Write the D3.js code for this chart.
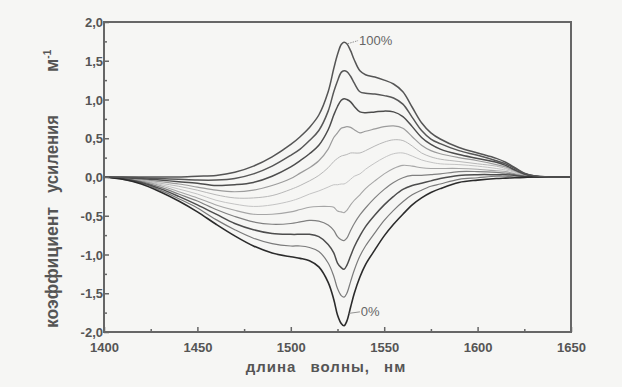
<!DOCTYPE html>
<html>
<head>
<meta charset="utf-8">
<script src="https://cdn.jsdelivr.net/npm/d3@7"></script>
<style>
  html, body { margin: 0; padding: 0; background: #f6f6f4; }
  svg { display: block; }
  .tick-label { font-family: "Liberation Sans", Arial, sans-serif; font-weight: bold; font-size: 13px; fill: #555; }
  .axis-title { font-family: "Liberation Sans", Arial, sans-serif; font-weight: bold; fill: #555; }
  .curve-label { font-family: "Liberation Sans", Arial, sans-serif; font-size: 13px; fill: #666; }
</style>
</head>
<body>
<svg id="chart" width="622" height="387"></svg>
<script>
// Wavelength grid, nm
const wavelength = [1400,1410,1420,1430,1440,1450,1460,1470,1480,1490,1500,1505,1510,1515,1520,1523,1525,1527,1528.5,1530,1532,1534,1537,1540,1545,1550,1555,1560,1565,1570,1575,1580,1590,1600,1610,1615,1620,1625,1630,1640,1650];

// Gain coefficient, 1/m, for each population inversion level
const gain0   = [0,-0.03,-0.09,-0.19,-0.31,-0.45,-0.61,-0.76,-0.89,-0.98,-1.03,-1.05,-1.08,-1.16,-1.36,-1.58,-1.78,-1.89,-1.92,-1.86,-1.68,-1.50,-1.29,-1.13,-0.94,-0.76,-0.61,-0.48,-0.36,-0.27,-0.20,-0.15,-0.07,-0.04,-0.02,-0.015,-0.01,-0.005,0,0,0];
const gain10  = [0,-0.03,-0.08,-0.17,-0.28,-0.40,-0.55,-0.68,-0.79,-0.86,-0.89,-0.89,-0.91,-0.96,-1.11,-1.28,-1.44,-1.53,-1.55,-1.50,-1.35,-1.20,-1.02,-0.89,-0.72,-0.56,-0.43,-0.32,-0.23,-0.17,-0.12,-0.09,-0.03,-0.01,0.01,0.01,0,0,0,0,0];
const gain20  = [0,-0.02,-0.07,-0.15,-0.25,-0.36,-0.48,-0.60,-0.68,-0.73,-0.74,-0.74,-0.74,-0.77,-0.87,-0.98,-1.11,-1.17,-1.19,-1.14,-1.02,-0.90,-0.76,-0.64,-0.49,-0.36,-0.25,-0.16,-0.11,-0.08,-0.05,-0.02,0.02,0.03,0.03,0.03,0.02,0.006,0,0,0];
const gain30  = [0,-0.02,-0.06,-0.13,-0.22,-0.31,-0.42,-0.51,-0.58,-0.61,-0.60,-0.58,-0.56,-0.57,-0.62,-0.69,-0.77,-0.81,-0.82,-0.79,-0.69,-0.60,-0.49,-0.40,-0.27,-0.16,-0.07,-0.01,0.02,0.02,0.03,0.04,0.07,0.07,0.06,0.05,0.03,0.01,0,0,0];
const gain40  = [0,-0.02,-0.05,-0.11,-0.19,-0.27,-0.36,-0.43,-0.48,-0.48,-0.45,-0.42,-0.39,-0.38,-0.38,-0.39,-0.44,-0.45,-0.46,-0.43,-0.36,-0.30,-0.23,-0.15,-0.05,0.04,0.11,0.15,0.14,0.12,0.11,0.11,0.11,0.10,0.08,0.07,0.04,0.017,0.005,0,0];
const gain50  = [0,-0.015,-0.045,-0.095,-0.155,-0.22,-0.30,-0.35,-0.38,-0.36,-0.31,-0.27,-0.22,-0.18,-0.13,-0.10,-0.10,-0.09,-0.09,-0.07,-0.03,0.01,0.04,0.10,0.18,0.25,0.30,0.31,0.27,0.22,0.19,0.17,0.16,0.14,0.11,0.09,0.06,0.02,0.01,0,0];
const gain60  = [0,-0.01,-0.04,-0.08,-0.12,-0.17,-0.23,-0.27,-0.27,-0.24,-0.16,-0.11,-0.05,0.02,0.12,0.20,0.24,0.27,0.28,0.29,0.31,0.31,0.31,0.34,0.40,0.45,0.48,0.47,0.40,0.31,0.26,0.23,0.20,0.17,0.14,0.11,0.07,0.028,0.01,0,0];
const gain70  = [0,-0.01,-0.03,-0.06,-0.09,-0.13,-0.17,-0.19,-0.17,-0.11,-0.02,0.05,0.12,0.21,0.36,0.51,0.57,0.63,0.64,0.65,0.64,0.61,0.57,0.59,0.62,0.65,0.66,0.63,0.52,0.41,0.34,0.30,0.25,0.21,0.16,0.13,0.08,0.03,0.01,0,0];
const gain80  = [0,-0.01,-0.02,-0.04,-0.06,-0.08,-0.11,-0.10,-0.07,0.01,0.13,0.21,0.30,0.41,0.61,0.80,0.91,0.99,1.01,1.00,0.97,0.91,0.84,0.83,0.84,0.85,0.84,0.78,0.65,0.51,0.42,0.36,0.29,0.24,0.19,0.15,0.09,0.039,0.01,0,0];
const gain90  = [0,0,-0.01,-0.02,-0.03,-0.04,-0.04,-0.02,0.04,0.14,0.28,0.36,0.47,0.60,0.85,1.10,1.24,1.35,1.37,1.36,1.30,1.21,1.10,1.08,1.07,1.05,1.02,0.94,0.77,0.60,0.49,0.43,0.34,0.28,0.21,0.17,0.11,0.045,0.015,0,0];
const gain100 = [0,0,0,0,0,0.01,0.02,0.06,0.14,0.26,0.42,0.52,0.64,0.80,1.10,1.40,1.58,1.71,1.74,1.72,1.63,1.51,1.37,1.32,1.29,1.25,1.20,1.10,0.90,0.70,0.57,0.49,0.38,0.31,0.24,0.19,0.12,0.05,0.015,0,0];

const seriesList = [gain0, gain10, gain20, gain30, gain40, gain50, gain60, gain70, gain80, gain90, gain100];
const seriesColors = ["#2b2b2b","#7a7a7a","#4d4d4d","#808080","#a6a6a6","#c4c4c4","#b8b8b8","#9c9c9c","#4d4d4d","#575757","#555555"];
const seriesWidths = [1.6,1.2,1.5,1.2,1.1,1.0,1.0,1.2,1.5,1.5,1.5];

const xTicks = [1400,1450,1500,1550,1600,1650];
const yTicks = [-2.0,-1.5,-1.0,-0.5,0.0,0.5,1.0,1.5,2.0];

const svg = d3.select("#chart");
const margin = {left: 104, right: 51, top: 22, bottom: 55};
const W = 622, H = 387;

const x = d3.scaleLinear().domain([1400, 1650]).range([margin.left, W - margin.right]);
const y = d3.scaleLinear().domain([-2, 2]).range([H - margin.bottom, margin.top]);

// decimal comma, plain hyphen for minus
const fmt = v => d3.format(".1f")(v).replace(".", ",").replace("−", "-");

// curves
const line = d3.line()
  .x((d, i) => x(wavelength[i]))
  .y(d => y(d))
  .curve(d3.curveCatmullRom.alpha(0.5));

const order = [5,4,6,3,7,1,9,2,8,0,10]; // light curves first, dark ones on top
const curves = svg.append("g");
order.forEach(k => {
  curves.append("path")
    .datum(seriesList[k])
    .attr("d", line)
    .attr("fill", "none")
    .attr("stroke", seriesColors[k])
    .attr("stroke-width", seriesWidths[k])
    .attr("stroke-linejoin", "round");
});

// axes: ticks pointing inward
const xAxis = d3.axisBottom(x).tickValues(xTicks).tickSize(-5).tickFormat(d3.format("d"));
const xMinor = d3.axisBottom(x).tickValues(d3.range(1425, 1650, 50)).tickSize(-3).tickFormat("");
const yAxis = d3.axisLeft(y).tickValues(yTicks).tickSize(-5).tickFormat(fmt);
const yMinor = d3.axisLeft(y).tickValues(d3.range(-1.75, 2, 0.5)).tickSize(-3).tickFormat("");

const gx = svg.append("g").attr("transform", `translate(0,${H - margin.bottom})`).call(xAxis);
svg.append("g").attr("transform", `translate(0,${H - margin.bottom})`).call(xMinor);
const gy = svg.append("g").attr("transform", `translate(${margin.left},0)`).call(yAxis);
svg.append("g").attr("transform", `translate(${margin.left},0)`).call(yMinor);

svg.selectAll(".domain").remove();
svg.selectAll(".tick line").attr("stroke", "#666").attr("stroke-width", 1.5);
gx.selectAll(".tick text").attr("class", "tick-label").attr("y", 11).attr("dy", "0.71em");
gy.selectAll(".tick text").attr("class", "tick-label").attr("x", -1).attr("dy", "0.35em");

// frame
svg.append("rect")
  .attr("x", margin.left).attr("y", margin.top)
  .attr("width", W - margin.left - margin.right)
  .attr("height", H - margin.top - margin.bottom)
  .attr("fill", "none").attr("stroke", "#666").attr("stroke-width", 2);

// curve labels
const peakIdx = wavelength.indexOf(1528.5);
svg.append("line")
  .attr("x1", x(1530.5)).attr("y1", y(gain100[peakIdx + 1]))
  .attr("x2", x(1536)).attr("y2", y(1.76))
  .attr("stroke", "#777").attr("stroke-width", 0.8).attr("stroke-dasharray", "1.5,1");
svg.append("text").attr("class", "curve-label")
  .attr("x", x(1536.5)).attr("y", y(1.76)).attr("dy", "0.35em").text("100%");

svg.append("line")
  .attr("x1", x(1531)).attr("y1", y(-1.76))
  .attr("x2", x(1537)).attr("y2", y(-1.74))
  .attr("stroke", "#777").attr("stroke-width", 0.8);
svg.append("text").attr("class", "curve-label")
  .attr("x", x(1537.5)).attr("y", y(-1.74)).attr("dy", "0.35em").text("0%");

// x axis title
svg.append("text").attr("class", "axis-title")
  .attr("x", 326).attr("y", 372)
  .attr("text-anchor", "middle")
  .style("font-size", "15px").style("letter-spacing", "1px").style("word-spacing", "9px")
  .text("длина волны, нм");

// y axis title: three words spread along the axis
const titleX = 58;
const yWords = [
  {text: "коэффициент", from: 328, len: 121},
  {text: "усиления", from: 193, len: 78}
];
yWords.forEach(w => {
  svg.append("text").attr("class", "axis-title")
    .attr("transform", `translate(${titleX},${w.from}) rotate(-90)`)
    .attr("textLength", w.len).attr("lengthAdjust", "spacingAndGlyphs")
    .style("font-size", "18px")
    .text(w.text);
});
const unit = svg.append("text").attr("class", "axis-title")
  .attr("transform", `translate(${titleX},72) rotate(-90)`)
  .style("font-size", "18px");
unit.append("tspan").text("м");
unit.append("tspan").attr("dy", "-7").style("font-size", "10px").text("-1");
</script>
</body>
</html>
